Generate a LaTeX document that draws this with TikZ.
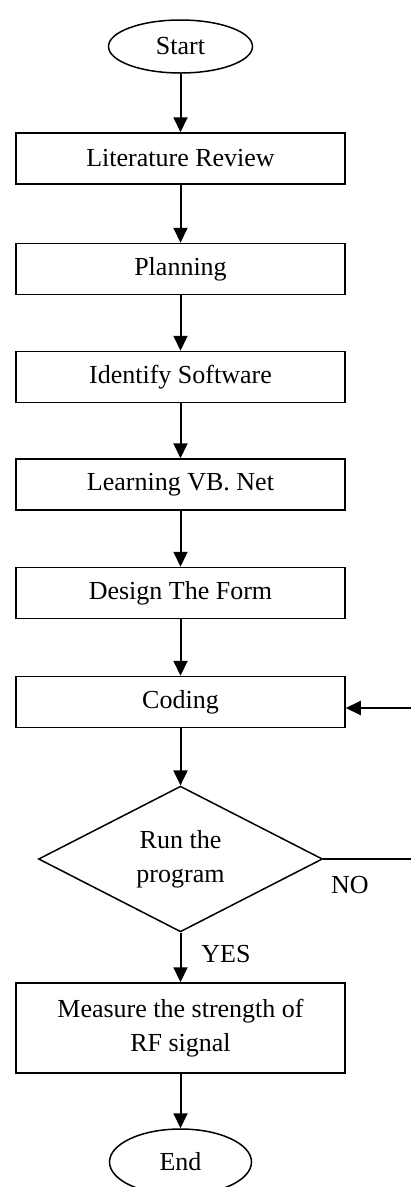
\documentclass[tikz,border=0pt]{standalone}
\usepackage{fontspec}
\setmainfont{Liberation Serif}
\usetikzlibrary{shapes.geometric,arrows.meta}
\begin{document}
\begin{tikzpicture}[x=1pt,y=-1pt,
  every node/.style={font=\fontsize{26}{34}\selectfont, inner sep=0pt},
  procbox/.style={draw, line width=1.5pt, minimum width=329pt, minimum height=51pt, align=center},
  termnode/.style={draw, ellipse, line width=1.5pt, minimum width=144pt, minimum height=53pt},
  decnode/.style={draw, diamond, line width=1.5pt, minimum width=284pt, minimum height=142pt, align=center},
  flow/.style={line width=2pt, -{Triangle[width=14pt,length=15pt]}},
  plain/.style={line width=2pt}]
\useasboundingbox (0,0) rectangle (411,1187);
\node[termnode] (start) at (180.5,46.5) {Start};
\node[procbox] (lit) at (180.5,158.5) {Literature Review};
\node[procbox] (plan) at (180.5,269) {Planning};
\node[procbox] (ident) at (180.5,377) {Identify Software};
\node[procbox] (learn) at (180.5,484.5) {Learning VB. Net};
\node[procbox] (design) at (180.5,593) {Design The Form};
\node[procbox] (coding) at (180.5,702) {Coding};
\node[decnode] (run) at (180.5,859) {Run the\\program};
\node[procbox, minimum height=90pt] (measure) at (180.5,1028) {Measure the strength of\\RF signal};
\node[termnode, minimum height=66pt, minimum width=142pt] (stop) at (180.5,1162) {End};
\node (no) at (350,885) {NO};
\node (yes) at (226,954) {YES};
\coordinate (c1) at (413,859);
\coordinate (c2) at (413,708);
\draw[flow] (start) -- (lit);
\draw[flow] (lit) -- (plan);
\draw[flow] (plan) -- (ident);
\draw[flow] (ident) -- (learn);
\draw[flow] (learn) -- (design);
\draw[flow] (design) -- (coding);
\draw[flow] (coding) -- (run);
\draw[flow] (run) -- (measure);
\draw[flow] (measure) -- (stop);
\draw[plain] (run.east) -- (c1) -- (c2);
\draw[flow] (c2) -- (c2 -| coding.east);
\end{tikzpicture}
\end{document}
